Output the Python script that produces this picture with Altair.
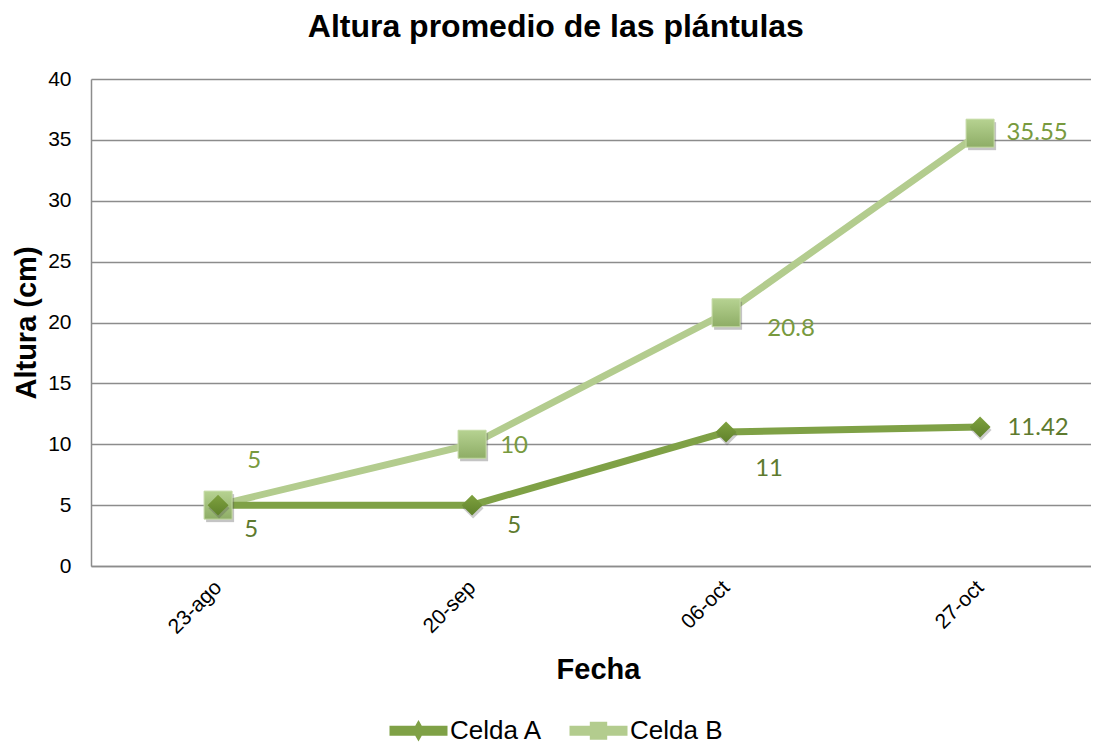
import altair as alt
import pandas as pd

# ---- data ----
fechas = ["23-ago", "20-sep", "06-oct", "27-oct"]
celda_a = [5, 5, 11, 11.42]
celda_b = [5, 10, 20.8, 35.55]
series = ["Celda A", "Celda B"]

rows = []
for f, a, b in zip(fechas, celda_a, celda_b):
    rows.append({"Fecha": f, "Serie": "Celda A", "Altura": a, "Etiqueta": f"{a:g}"})
    rows.append({"Fecha": f, "Serie": "Celda B", "Altura": b, "Etiqueta": f"{b:g}"})
df = pd.DataFrame(rows)

# ---- styles ----
FONT = "Liberation Sans"
LBL_FONT = "Lato"
COL_A = "#7FA146"
COL_B = "#B3CC8E"
LBL_A = "#5E7A2E"
LBL_B = "#789A3E"

x_enc = alt.X(
    "Fecha:N", sort=fechas,
    scale=alt.Scale(type="point", padding=0.4685, align=0.534),
    axis=alt.Axis(title="Fecha", labelAngle=315, labelAlign="right", labelBaseline="middle",
                  labelFontSize=21, labelFont=FONT, labelColor="#000000", labelPadding=18,
                  ticks=False, domainColor="#8C8C8C", domainWidth=1.5,
                  titleFontSize=29, titleFont=FONT, titleFontWeight="bold", titlePadding=18,
                  titleX=507, titleColor="#000000", grid=False),
)
y_enc = alt.Y(
    "Altura:Q",
    scale=alt.Scale(domain=[0, 40], nice=False),
    axis=alt.Axis(title="Altura (cm)", values=list(range(0, 41, 5)), labelFontSize=21,
                  labelFont=FONT, labelColor="#000000", labelPadding=20, ticks=False,
                  domainColor="#8C8C8C", domainWidth=1.5, gridColor="#8C8C8C", gridWidth=1.5,
                  titleFontSize=29, titleFont=FONT, titleFontWeight="bold", titlePadding=6,
                  titleColor="#000000"),
)

base = alt.Chart(df).encode(x=x_enc, y=y_enc)

line_b = base.transform_filter(alt.datum.Serie == "Celda B").mark_line(
    color=COL_B, strokeWidth=7, strokeCap="round")
line_a = base.transform_filter(alt.datum.Serie == "Celda A").mark_line(
    color=COL_A, strokeWidth=7, strokeCap="round")

grad_b = alt.Gradient(gradient="linear", x1=0, y1=0, x2=0, y2=1,
                      stops=[alt.GradientStop(color="#B6D291", offset=0),
                             alt.GradientStop(color="#8EAD66", offset=1)])
grad_a = alt.Gradient(gradient="linear", x1=0, y1=0, x2=0, y2=1,
                      stops=[alt.GradientStop(color="#7FA23F", offset=0),
                             alt.GradientStop(color="#5F812B", offset=1)])

shadow_b = base.transform_filter(alt.datum.Serie == "Celda B").mark_square(
    size=784, color="#555555", opacity=0.35, xOffset=2, yOffset=3)
pts_b = base.transform_filter(alt.datum.Serie == "Celda B").mark_square(
    size=784, color=grad_b, opacity=1, stroke="#C4DAA4", strokeWidth=1)
shadow_a = base.transform_filter(alt.datum.Serie == "Celda A").mark_point(
    shape="diamond", size=440, filled=True, color="#555555", opacity=0.3, xOffset=1, yOffset=3)
pts_a = base.transform_filter(alt.datum.Serie == "Celda A").mark_point(
    shape="diamond", size=440, filled=True, color=grad_a, opacity=1)

# label offsets (serie, fecha, dx, dy)
offsets = [
    ("Celda A", "23-ago", 33, 25), ("Celda A", "20-sep", 42, 21),
    ("Celda A", "06-oct", 43, 37), ("Celda A", "27-oct", 58, 1),
    ("Celda B", "23-ago", 36, -44), ("Celda B", "20-sep", 42, 2),
    ("Celda B", "06-oct", 65, 16), ("Celda B", "27-oct", 57, 0),
]
labels = []
for s, f, dx, dy in offsets:
    labels.append(
        base.transform_filter((alt.datum.Serie == s) & (alt.datum.Fecha == f)).mark_text(
            font=LBL_FONT, fontSize=24, align="center", baseline="middle", dx=dx, dy=dy,
            color=LBL_A if s == "Celda A" else LBL_B,
        ).encode(text="Etiqueta:N")
    )

path_a = "M-2,-0.34 L2,-0.34 L2,0.34 L-2,0.34 Z M0,-0.74 L0.42,0 L0,0.74 L-0.42,0 Z"
path_b = "M-2,-0.34 L2,-0.34 L2,0.34 L-2,0.34 Z M-0.6,-0.62 L0.6,-0.62 L0.6,0.62 L-0.6,0.62 Z"

legend_layer = base.transform_filter("false").mark_point(filled=True, opacity=1).encode(
    color=alt.Color("Serie:N", scale=alt.Scale(domain=series, range=[COL_A, COL_B]),
                    legend=alt.Legend(title=None, orient="none", legendX=313, legendY=637,
                                      direction="horizontal", padding=0,
                                      labelFont=FONT, labelFontSize=26, labelColor="#000000",
                                      symbolSize=841, symbolStrokeWidth=0, labelOffset=17,
                                      columnPadding=26)),
    shape=alt.Shape("Serie:N", scale=alt.Scale(domain=series, range=[path_a, path_b])),
)

chart = alt.layer(
    line_b, line_a, shadow_b, pts_b, shadow_a, pts_a, *labels, legend_layer
).properties(
    width=1000, height=487,
    autosize=alt.AutoSizeParams(type="none"),
    padding={"left": 83, "top": 71, "right": 0, "bottom": 181},
    title=alt.Title("Altura promedio de las plántulas", font=FONT, fontSize=32,
                    fontWeight="bold", color="#000000", anchor="middle", frame="bounds",
                    offset=24, dx=4),
).configure_view(stroke=None)

chart.save("out.html", embed_options={"renderer": "svg", "actions": False})
